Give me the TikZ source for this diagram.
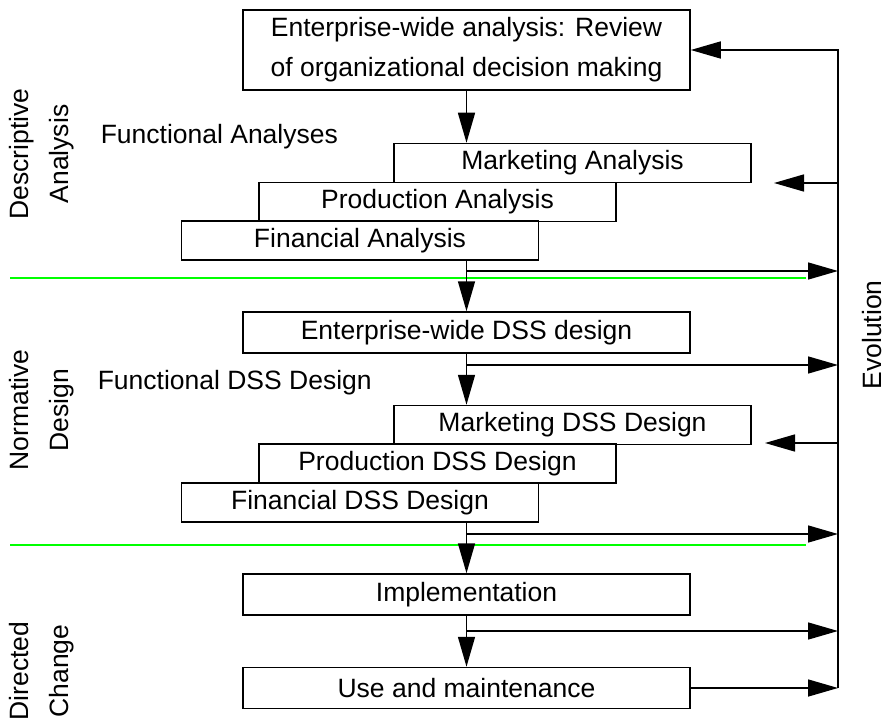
\documentclass[tikz,border=0pt]{standalone}
\usepackage{fontspec}
\setmainfont{Liberation Sans}
\usepackage{tikz}
\usetikzlibrary{arrows.meta,positioning,calc}
\definecolor{DSSgreen}{RGB}{0,255,0}
\tikzstyle{txt}   = [font=\fontsize{26.5}{40}\selectfont, inner sep=0pt, align=center]
\tikzstyle{pbox}  = [txt, rectangle, draw, fill=white, line width=1.5pt]
\tikzstyle{Bwide} = [pbox, minimum width=447pt, minimum height=41pt]
\tikzstyle{Bfunc} = [pbox, minimum width=357pt, minimum height=39pt]
\tikzstyle{Bside} = [txt, rotate=90]
\tikzstyle{sepline} = [draw=DSSgreen, line width=1.8pt]

\begin{document}
\begin{tikzpicture}[x=1pt, y=-1pt, line width=1.5pt,
                    >={Triangle[length=30pt,width=17pt]}]
  \useasboundingbox (0,0) rectangle (888,719);
  % descriptive analysis
  \node[Bwide, minimum height=80pt] (ent) at (466.5,50)
       {Enterprise-wide analysis: Review\\of organizational decision making};
  \node[txt, anchor=west] (fana) at (100,137) {Functional Analyses};
  \node[Bfunc] (mkt)  at (572.5,163) {Marketing Analysis};
  \node[Bfunc] (prod) at (437.5,202) {Production Analysis};
  \node[Bfunc] (fin)  at (360,240.5) {Financial Analysis};
  % normative design
  \node[Bwide] (dss) at (466.5,332.5) {Enterprise-wide DSS design};
  \node[txt, anchor=west] (fdes) at (97,383) {Functional DSS Design};
  \node[Bfunc] (mdss) at (572.5,425) {Marketing DSS Design};
  \node[Bfunc] (pdss) at (437.5,463.5) {Production DSS Design};
  \node[Bfunc] (fdss) at (360,502.5) {Financial DSS Design};
  % directed change
  \node[Bwide] (impl) at (466.5,594.5) {Implementation};
  \node[Bwide] (use)  at (466.5,688) {Use and maintenance};
  % side labels
  \node[Bside] (desc) at (42,154) {Descriptive\\Analysis};
  \node[Bside] (norm) at (42,410) {Normative\\Design};
  \node[Bside] (dirc) at (42,671) {Directed\\Change};
  \node[txt, rotate=90, anchor=base] (evol) at (881,335) {Evolution};
  % phase borders
  \draw[sepline] (10,278) -- (806,278);
  \draw[sepline] (10,545) -- (806,545);
  % flow
  \coordinate (evbot) at (838,688);
  \coordinate (brA) at (466.5,271);
  \coordinate (brB) at (466.5,365);
  \coordinate (brC) at (466.5,534);
  \coordinate (brD) at (466.5,631);
  \coordinate (fbA) at (774,183);
  \coordinate (fbB) at (765,443);
  \draw[->] (ent.south) -- (ent.south |- mkt.north);
  \draw[->] (ent.south |- fin.south) -- (ent.south |- dss.north);
  \draw[->] (dss.south) -- (dss.south |- mdss.north);
  \draw[->] (dss.south |- fdss.south) -- (impl.north);
  \draw[->] (impl.south) -- (use.north);
  \draw[->] (brA) -- (brA -| evbot);
  \draw[->] (brB) -- (brB -| evbot);
  \draw[->] (brC) -- (brC -| evbot);
  \draw[->] (brD) -- (brD -| evbot);
  \draw[->] (use.east) -- (evbot);
  \draw[->] (evbot) |- (ent.east);
  \draw[->] (evbot |- fbA) -- (fbA);
  \draw[->] (evbot |- fbB) -- (fbB);
\end{tikzpicture}
\end{document}
